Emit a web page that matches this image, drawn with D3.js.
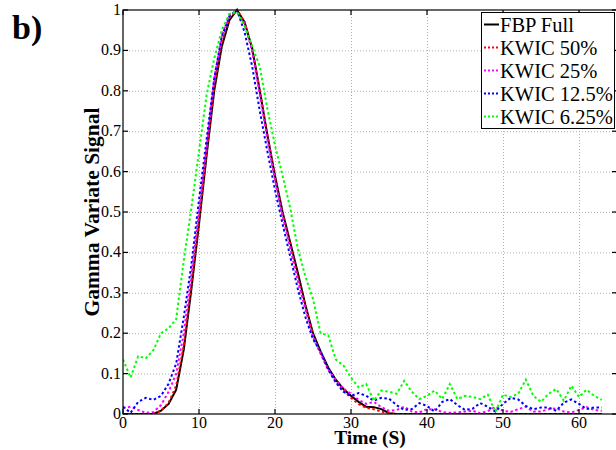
<!DOCTYPE html>
<html>
<head>
<meta charset="utf-8">
<script src="https://cdn.jsdelivr.net/npm/d3@7"></script>
<style>
  body { margin: 0; background: #fff; }
  svg { display: block; font-family: "Liberation Serif", "Times New Roman", serif; }
</style>
</head>
<body>
<div id="chart"></div>
<script>
const w = 616;
const h = 450;

// time axis, one sample per second
const time = [0,1,2,3,4,5,6,7,8,9,10,11,12,13,14,15,16,17,18,19,20,21,22,23,24,25,26,27,28,29,30,31,
  32,33,34,35,36,37,38,39,40,41,42,43,44,45,46,47,48,49,50,51,52,53,54,55,56,57,58,59,60,61,62,63];

const fbpFull = [0,0,0,0,0,0.008,0.025,0.06,0.16,0.31,0.47,0.64,0.80,0.91,0.975,1.0,0.97,0.905,0.80,0.69,
  0.59,0.50,0.425,0.35,0.27,0.20,0.155,0.115,0.085,0.062,0.045,0.03,0.018,0.017,0.012,0.002,
  0,0,0,0,0,0,0,0,0,0,0,0,0,0,0,0,0,0,0,0,0,0,0,0,0,0,0,0];

const kwic50 = [0,0,0,0,0,0.008,0.028,0.07,0.17,0.32,0.48,0.65,0.81,0.92,0.98,1.0,0.97,0.90,0.80,0.69,
  0.585,0.495,0.42,0.34,0.265,0.195,0.15,0.11,0.08,0.058,0.04,0.025,0.015,0.012,0.006,0.002,
  0,0,0,0,0,0,0,0,0,0,0,0,0,0,0,0,0,0,0,0,0,0,0,0,0,0,0,0];

const kwic25 = [0.015,0.018,0.01,0.003,0.005,0.022,0.055,0.10,0.20,0.345,0.50,0.66,0.83,0.935,0.99,0.995,
  0.965,0.90,0.79,0.68,0.58,0.49,0.41,0.33,0.26,0.19,0.15,0.11,0.085,0.063,0.05,0.035,0.025,0.03,0.017,
  0.008,0.01,0.018,0.006,0.004,0.012,0.012,0.005,0.003,0.004,0.006,0.008,0.002,0.007,0.018,0.008,0.005,
  0.012,0.018,0.006,0.006,0.012,0.014,0.006,0.004,0.01,0.017,0.01,0.008];

const kwic125 = [0.018,0.003,0.03,0.04,0.035,0.045,0.075,0.125,0.24,0.37,0.53,0.68,0.83,0.935,0.985,1.0,
  0.945,0.86,0.75,0.65,0.555,0.47,0.39,0.31,0.24,0.185,0.155,0.11,0.078,0.055,0.045,0.052,0.045,0.033,
  0.04,0.038,0.022,0.01,0.012,0.027,0.02,0.006,0.03,0.037,0.022,0.01,0.013,0.027,0.018,0.006,0.025,0.04,
  0.036,0.02,0.012,0.016,0.016,0.008,0.028,0.036,0.025,0.012,0.016,0.016];

const kwic625 = [0.135,0.09,0.143,0.138,0.158,0.20,0.212,0.235,0.38,0.51,0.65,0.79,0.88,0.95,0.99,0.995,
  0.96,0.91,0.86,0.755,0.665,0.59,0.51,0.41,0.34,0.285,0.20,0.195,0.135,0.12,0.09,0.066,0.074,0.033,
  0.058,0.055,0.05,0.082,0.055,0.037,0.045,0.058,0.037,0.074,0.037,0.045,0.042,0.037,0.048,0.005,0.048,
  0.042,0.05,0.085,0.045,0.03,0.05,0.062,0.033,0.07,0.042,0.06,0.045,0.035];

const seriesNames = ["FBP Full", "KWIC 50%", "KWIC 25%", "KWIC 12.5%", "KWIC 6.25%"];
const seriesValues = [fbpFull, kwic50, kwic25, kwic125, kwic625];
const seriesColors = ["#000000", "#ff0000", "#ff00ff", "#0000ff", "#00ff00"];

const xTicks = [0, 10, 20, 30, 40, 50, 60];
const yTicks = [0, 0.1, 0.2, 0.3, 0.4, 0.5, 0.6, 0.7, 0.8, 0.9, 1];

const svg = d3.select("#chart").append("svg")
  .attr("width", w)
  .attr("height", h);

svg.append("rect").attr("width", w).attr("height", h).attr("fill", "#fff");

const x = d3.scaleLinear().domain([0, 65]).range([123, 617]);
const y = d3.scaleLinear().domain([0, 1]).range([414, 10]);

// grid
const grid = svg.append("g")
  .attr("stroke", "#b0b0b0")
  .attr("stroke-width", 1)
  .attr("stroke-dasharray", "1,2");

grid.selectAll("line.gx").data(xTicks.slice(1)).enter().append("line")
  .attr("x1", (d) => x(d) + 0.5).attr("x2", (d) => x(d) + 0.5)
  .attr("y1", y(0)).attr("y2", y(1));

grid.selectAll("line.gy").data(yTicks.slice(1, -1)).enter().append("line")
  .attr("x1", x(0)).attr("x2", x(65))
  .attr("y1", (d) => y(d) + 0.5).attr("y2", (d) => y(d) + 0.5);

svg.append("clipPath").attr("id", "plotclip")
  .append("rect")
  .attr("x", x(0)).attr("y", y(1) - 2)
  .attr("width", x(65) - x(0)).attr("height", y(0) - y(1) + 2);

const line = d3.line()
  .x((d, i) => x(time[i]))
  .y((d) => y(d));

const curves = svg.append("g").attr("clip-path", "url(#plotclip)");

seriesValues.forEach((vals, k) => {
  curves.append("path")
    .datum(vals)
    .attr("d", line)
    .attr("fill", "none")
    .attr("stroke", seriesColors[k])
    .attr("stroke-width", 2)
    .attr("stroke-dasharray", k === 0 ? null : "2.5,2.5");
});

// frame with inward ticks on all four sides
const frame = svg.append("g").attr("stroke", "#000").attr("stroke-width", 1.2);
frame.append("rect")
  .attr("x", x(0)).attr("y", y(1))
  .attr("width", x(65) - x(0)).attr("height", y(0) - y(1))
  .attr("fill", "none");

const tickLen = 5;
xTicks.forEach((t) => {
  frame.append("line").attr("x1", x(t)).attr("x2", x(t)).attr("y1", y(0)).attr("y2", y(0) - tickLen);
  frame.append("line").attr("x1", x(t)).attr("x2", x(t)).attr("y1", y(1)).attr("y2", y(1) + tickLen);
});
yTicks.forEach((t) => {
  frame.append("line").attr("x1", x(0)).attr("x2", x(0) + tickLen).attr("y1", y(t)).attr("y2", y(t));
  frame.append("line").attr("x1", x(65)).attr("x2", x(65) - tickLen).attr("y1", y(t)).attr("y2", y(t));
});

// tick labels
svg.append("g").selectAll("text").data(xTicks).enter().append("text")
  .attr("x", (d) => x(d))
  .attr("y", 428)
  .attr("text-anchor", "middle")
  .attr("font-size", 16)
  .text((d) => d);

svg.append("g").selectAll("text").data(yTicks).enter().append("text")
  .attr("x", 121)
  .attr("y", (d) => y(d) + 5)
  .attr("text-anchor", "end")
  .attr("font-size", 16)
  .text((d) => String(+d.toFixed(1)));

// axis titles
svg.append("text")
  .attr("x", 370).attr("y", 444)
  .attr("text-anchor", "middle")
  .attr("font-size", 19.5)
  .attr("font-weight", "bold")
  .text("Time (S)");

svg.append("text")
  .attr("transform", "translate(99,212) rotate(-90)")
  .attr("text-anchor", "middle")
  .attr("font-size", 21.5)
  .attr("font-weight", "bold")
  .text("Gamma Variate Signal");

svg.append("text")
  .attr("x", 12).attr("y", 39)
  .attr("font-size", 34)
  .attr("font-weight", "bold")
  .text("b)");

// legend
const legend = svg.append("g");
legend.append("rect")
  .attr("x", 481.5).attr("y", 12.5)
  .attr("width", 133).attr("height", 116)
  .attr("fill", "#fff")
  .attr("stroke", "#000")
  .attr("stroke-width", 1);

seriesNames.forEach((name, k) => {
  const ly = 24.5 + k * 23;
  legend.append("line")
    .attr("x1", 484).attr("x2", 499)
    .attr("y1", ly).attr("y2", ly)
    .attr("stroke", seriesColors[k])
    .attr("stroke-width", 2)
    .attr("stroke-dasharray", k === 0 ? null : "2,2");
  legend.append("text")
    .attr("x", 500).attr("y", ly + 7)
    .attr("font-size", 20.5)
    .text(name);
});
</script>
</body>
</html>
